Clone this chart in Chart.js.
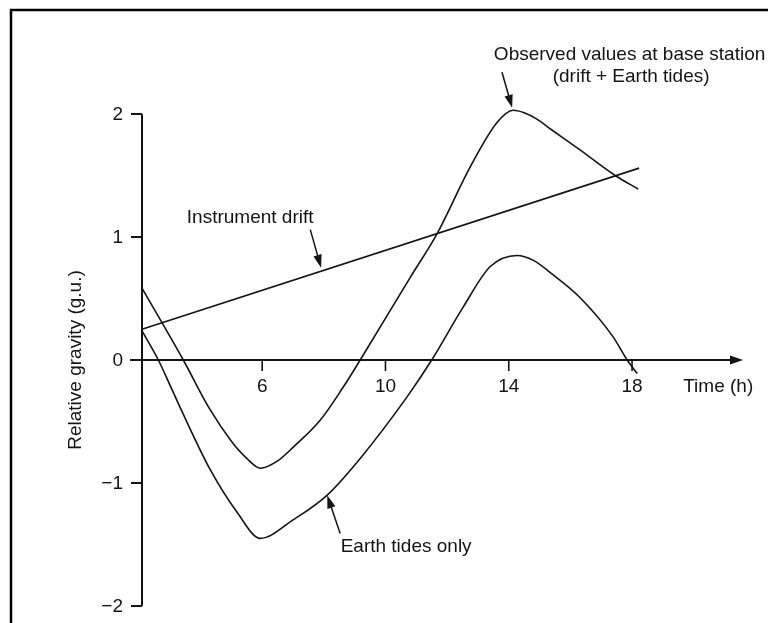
<!DOCTYPE html>
<html>
<head>
<meta charset="utf-8">
<script src="https://cdn.jsdelivr.net/npm/chart.js@4.4.1/dist/chart.umd.min.js"></script>
<style>
  html, body { margin: 0; padding: 0; background: #fff; }
  canvas { display: block; }
</style>
</head>
<body>
<canvas id="c" width="768" height="623"></canvas>
<script>
// ---- data ----
const obsX   = [2.1, 3.44, 4.3, 5.0, 5.5, 5.94, 6.5, 7.0, 7.88, 8.63, 9.18, 10.8, 11.68, 12.75, 13.62, 14.14, 14.5, 14.9, 15.4, 16.3, 17.45, 18.2];
const obsY   = [0.585, 0, -0.40, -0.66, -0.80, -0.88, -0.82, -0.71, -0.49, -0.22, 0, 0.67, 1.03, 1.57, 1.93, 2.03, 2.01, 1.96, 1.87, 1.71, 1.50, 1.39];
const tideX  = [2.1, 2.63, 3.0, 3.4, 4.31, 5.19, 5.94, 7.0, 8.1, 9.18, 10.7, 11.5, 12.52, 13.4, 14.27, 14.8, 15.4, 16.3, 17.38, 17.84, 18.17];
const tideY  = [0.236, 0, -0.20, -0.42, -0.89, -1.24, -1.45, -1.30, -1.10, -0.80, -0.30, 0, 0.43, 0.76, 0.85, 0.81, 0.70, 0.51, 0.19, 0, -0.11];
const driftX = [2.1, 18.23];
const driftY = [0.25, 1.56];

const xTicks = [6, 10, 14, 18];
const xTickLabels = ["6", "10", "14", "18"];
const yTicks = [-2, -1, 0, 1, 2];
const yTickLabels = ["\u22122", "\u22121", "0", "1", "2"];

const xTitle = "Time (h)";
const yTitle = "Relative gravity (g.u.)";

// annotations (text + arrows), positioned in data units
const notes = [
  { text: "Instrument drift", x: 5.61, y: 1.16, tail: [7.56, 1.06], tip: [7.91, 0.75] },
  { text: "Observed values at base station", x: 17.92, y: 2.48, tail: [13.78, 2.34], tip: [14.11, 2.05] },
  { text: "(drift + Earth tides)", x: 17.97, y: 2.30 },
  { text: "Earth tides only", x: 10.67, y: -1.52, tail: [8.53, -1.41], tip: [8.11, -1.10] }
];

const zip = (xs, ys) => xs.map((x, i) => ({ x: x, y: ys[i] }));

const FONT = '19px "Liberation Sans", Arial, Helvetica, sans-serif';
const INK = '#141414';

function arrow(ctx, x1, y1, x2, y2) {
  const ang = Math.atan2(y2 - y1, x2 - x1);
  const L = 13, W = 4.2;
  ctx.beginPath();
  ctx.moveTo(x1, y1);
  ctx.lineTo(x2 - Math.cos(ang) * (L - 2), y2 - Math.sin(ang) * (L - 2));
  ctx.stroke();
  ctx.beginPath();
  ctx.moveTo(x2, y2);
  ctx.lineTo(x2 - Math.cos(ang) * L - Math.sin(ang) * W, y2 - Math.sin(ang) * L + Math.cos(ang) * W);
  ctx.lineTo(x2 - Math.cos(ang) * L + Math.sin(ang) * W, y2 - Math.sin(ang) * L - Math.cos(ang) * W);
  ctx.closePath();
  ctx.fill();
}

const sketch = {
  id: 'sketch',
  beforeDraw(chart) {
    const ctx = chart.ctx;
    ctx.save();
    ctx.fillStyle = '#fff';
    ctx.fillRect(0, 0, chart.width, chart.height);
    ctx.strokeStyle = '#000';
    ctx.lineWidth = 2.5;
    ctx.beginPath();
    ctx.moveTo(11, chart.height);
    ctx.lineTo(11, 10);
    ctx.lineTo(chart.width, 10);
    ctx.stroke();
    ctx.restore();
  },
  beforeDatasetsDraw(chart) {
    const ctx = chart.ctx;
    const xs = chart.scales.x, ys = chart.scales.y;
    const left = xs.left, right = xs.right;
    const y0 = ys.getPixelForValue(0);
    ctx.save();
    ctx.strokeStyle = INK;
    ctx.fillStyle = INK;
    ctx.lineWidth = 2;
    // y axis
    ctx.beginPath();
    ctx.moveTo(left, ys.getPixelForValue(yTicks[0]));
    ctx.lineTo(left, ys.getPixelForValue(yTicks[yTicks.length - 1]));
    ctx.stroke();
    // y ticks + labels
    ctx.font = FONT;
    ctx.textAlign = 'right';
    ctx.textBaseline = 'middle';
    yTicks.forEach((v, i) => {
      const py = ys.getPixelForValue(v);
      ctx.beginPath();
      ctx.moveTo(left - 11, py);
      ctx.lineTo(left, py);
      ctx.stroke();
      ctx.fillText(yTickLabels[i], left - 19, py + 1);
    });
    // x axis with arrow
    ctx.beginPath();
    ctx.moveTo(left - 12, y0);
    ctx.lineTo(right - 8, y0);
    ctx.stroke();
    ctx.beginPath();
    ctx.moveTo(right, y0);
    ctx.lineTo(right - 13, y0 - 4.5);
    ctx.lineTo(right - 13, y0 + 4.5);
    ctx.closePath();
    ctx.fill();
    // x ticks + labels
    ctx.textAlign = 'center';
    xTicks.forEach((v, i) => {
      const px = xs.getPixelForValue(v);
      ctx.lineWidth = 1.6;
      ctx.beginPath();
      ctx.moveTo(px, y0);
      ctx.lineTo(px, y0 + 11);
      ctx.stroke();
      ctx.fillText(xTickLabels[i], px, y0 + 27);
    });
    // x title
    ctx.textAlign = 'left';
    ctx.fillText(xTitle, xs.getPixelForValue(19.66), ys.getPixelForValue(-0.22));
    // y title
    ctx.save();
    ctx.translate(76, (ys.top + ys.bottom) / 2);
    ctx.rotate(-Math.PI / 2);
    ctx.textAlign = 'center';
    ctx.fillText(yTitle, 0, 0);
    ctx.restore();
    ctx.restore();
  },
  afterDatasetsDraw(chart) {
    const ctx = chart.ctx;
    const xs = chart.scales.x, ys = chart.scales.y;
    ctx.save();
    ctx.strokeStyle = INK;
    ctx.fillStyle = INK;
    ctx.lineWidth = 1.5;
    ctx.font = FONT;
    ctx.textAlign = 'center';
    ctx.textBaseline = 'middle';
    notes.forEach(n => {
      ctx.fillText(n.text, xs.getPixelForValue(n.x), ys.getPixelForValue(n.y));
      if (n.tail) {
        arrow(ctx,
          xs.getPixelForValue(n.tail[0]), ys.getPixelForValue(n.tail[1]),
          xs.getPixelForValue(n.tip[0]), ys.getPixelForValue(n.tip[1]));
      }
    });
    ctx.restore();
  }
};

const lineStyle = {
  borderColor: INK,
  borderWidth: 1.6,
  pointRadius: 0,
  fill: false,
  cubicInterpolationMode: 'monotone'
};

new Chart(document.getElementById('c'), {
  type: 'line',
  data: {
    datasets: [
      Object.assign({ label: 'Observed values at base station', data: zip(obsX, obsY) }, lineStyle),
      Object.assign({ label: 'Earth tides only', data: zip(tideX, tideY) }, lineStyle),
      Object.assign({ label: 'Instrument drift', data: zip(driftX, driftY) }, lineStyle, { cubicInterpolationMode: 'default', tension: 0 })
    ]
  },
  options: {
    responsive: false,
    animation: false,
    devicePixelRatio: 1,
    layout: { padding: { left: 142, right: 25, top: 114, bottom: 17 } },
    plugins: { legend: { display: false }, tooltip: { enabled: false } },
    scales: {
      x: { type: 'linear', min: 2.1, max: 21.6, display: false },
      y: { type: 'linear', min: -2, max: 2, display: false }
    },
    clip: false
  },
  plugins: [sketch]
});
</script>
</body>
</html>
